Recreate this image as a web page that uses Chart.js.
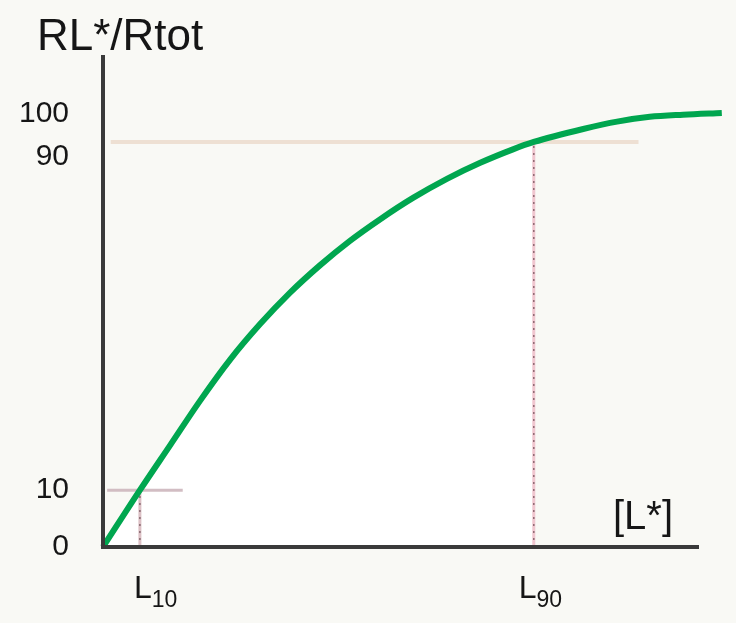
<!DOCTYPE html>
<html>
<head>
<meta charset="utf-8">
<script src="https://cdn.jsdelivr.net/npm/chart.js@4.4.0/dist/chart.umd.min.js"></script>
<style>
html, body { margin: 0; padding: 0; background: #f9f9f5; }
#wrap { width: 736px; height: 623px; }
</style>
</head>
<body>
<div id="wrap"><canvas id="bindingChart" width="736" height="623"></canvas></div>
<script>
// saturation curve: [L*] on x, RL*/Rtot on y (as drawn)
var ligand = [0, 6.2, 11.3, 16.3, 21.3, 26.4, 31.4, 36.5, 41.5, 46.6, 52.1, 57.8, 63.4, 68.9, 72.4, 80.7, 86.4, 91.9, 97.5, 104];
var bound = [0, 13.1, 23.5, 33.7, 43.1, 51.4, 58.6, 65.0, 70.6, 75.6, 80.5, 84.9, 88.6, 91.7, 93.4, 96.4, 98.1, 99.2, 99.7, 100.1];
var guideX = [6.2, 72.4];            // L10, L90
var guideY = [13.1, 93.4];           // 10 % and 90 % levels
var guideEnds = [13.4, 90];          // how far the level lines run
var yTickValues = [0, 13.1, 90, 100];
var yTickLabels = ['0', '10', '90', '100'];
var xSubs = ['10', '90'];
var xNudge = [-6, -15];

var FONT = '"Liberation Sans", Arial, sans-serif';
var INK = '#161616';

var curvePts = ligand.map(function (x, i) { return { x: x, y: bound[i] }; });
var underPts = curvePts.filter(function (p) { return p.x <= guideX[1]; });

function guide(pts, color, width, dash, order) {
    return {
        data: pts,
        borderColor: color,
        borderWidth: width,
        borderDash: dash || [],
        pointRadius: 0,
        fill: false,
        order: order
    };
}

var labelsPlugin = {
    id: 'labels',
    beforeDraw: function (chart) {
        var ctx = chart.ctx;
        ctx.save();
        ctx.fillStyle = '#f9f9f5';
        ctx.fillRect(0, 0, chart.width, chart.height);
        ctx.restore();
    },
    afterDraw: function (chart) {
        var ctx = chart.ctx;
        var xs = chart.scales.x;
        ctx.save();
        ctx.fillStyle = INK;
        ctx.textBaseline = 'alphabetic';
        ctx.textAlign = 'left';
        ctx.font = '44px ' + FONT;
        ctx.fillText('RL*/Rtot', 37, 50);
        ctx.font = '40px ' + FONT;
        ctx.fillText('[L*]', 613, 529);
        for (var i = 0; i < guideX.length; i++) {
            var px = xs.getPixelForValue(guideX[i]) + xNudge[i];
            ctx.font = '32px ' + FONT;
            ctx.fillText('L', px, 598);
            var w = ctx.measureText('L').width;
            ctx.font = '23px ' + FONT;
            ctx.fillText(xSubs[i], px + w, 607);
        }
        ctx.restore();
    }
};

var chart = new Chart(document.getElementById('bindingChart'), {
    type: 'line',
    data: {
        datasets: [
            {
                data: curvePts,
                borderColor: '#00a64f',
                borderWidth: 6,
                pointRadius: 0,
                cubicInterpolationMode: 'monotone',
                fill: false,
                clip: false,
                order: 0
            },
            guide([{ x: 0.7, y: guideY[0] }, { x: guideEnds[0], y: guideY[0] }], 'rgba(205,182,188,0.9)', 3, null, 2),
            guide([{ x: guideX[0], y: 0 }, { x: guideX[0], y: guideY[0] }], 'rgba(80,45,55,0.6)', 1.5, [2, 5], 1),
            guide([{ x: guideX[0], y: 0 }, { x: guideX[0], y: guideY[0] }], '#dcc0c5', 3, null, 2),
            guide([{ x: 1.3, y: guideY[1] }, { x: guideEnds[1], y: guideY[1] }], '#eee0d3', 4, null, 2),
            guide([{ x: guideX[1], y: 0 }, { x: guideX[1], y: guideY[1] }], 'rgba(80,45,55,0.6)', 1.5, [2, 5], 1),
            guide([{ x: guideX[1], y: 0 }, { x: guideX[1], y: guideY[1] }], '#f0c6cf', 3, null, 2),
            {
                data: underPts,
                borderWidth: 0,
                pointRadius: 0,
                cubicInterpolationMode: 'monotone',
                fill: 'origin',
                backgroundColor: '#ffffff',
                order: 3
            }
        ]
    },
    options: {
        responsive: false,
        animation: false,
        layout: { padding: { top: 57, right: 38, bottom: 76, left: 0 } },
        plugins: { legend: { display: false }, tooltip: { enabled: false }, title: { display: false } },
        scales: {
            x: {
                type: 'linear',
                min: 0,
                max: 100,
                afterFit: function (s) { s.height = 0; },
                ticks: { display: false },
                grid: { display: false, drawTicks: false },
                border: { display: true, color: '#3a3a3a', width: 4, z: 1 }
            },
            y: {
                type: 'linear',
                min: 0,
                max: 113,
                afterFit: function (s) { s.width = 103; },
                afterBuildTicks: function (s) {
                    s.ticks = yTickValues.map(function (v) { return { value: v }; });
                },
                ticks: {
                    autoSkip: false,
                    padding: 34,
                    color: INK,
                    font: { size: 30, family: FONT },
                    callback: function (v, i) { return yTickLabels[i]; }
                },
                grid: { display: false, drawTicks: false },
                border: { display: true, color: '#3a3a3a', width: 4, z: 1 }
            }
        }
    },
    plugins: [labelsPlugin]
});
</script>
</body>
</html>
